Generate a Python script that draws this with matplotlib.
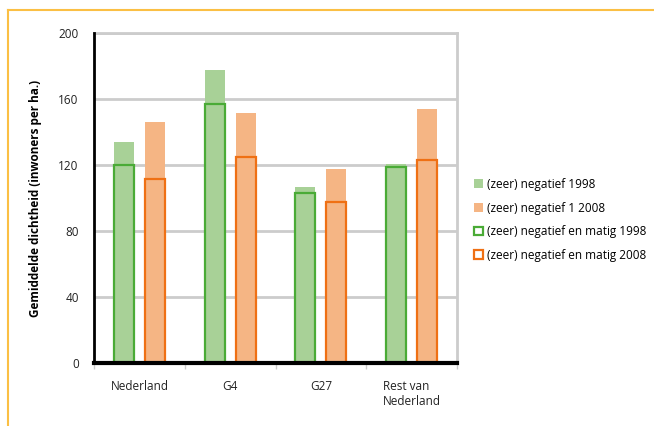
import matplotlib
matplotlib.use("Agg")
import matplotlib.pyplot as plt
import numpy as np
from matplotlib.lines import Line2D
from matplotlib.patches import Patch

categories = ["Nederland", "G4", "G27", "Rest van\nNederland"]
neg_1998 = [134, 178, 107, 121]
neg_2008 = [146, 152, 118, 154]
negmatig_1998 = [120, 157, 103, 119]
negmatig_2008 = [112, 125, 98, 123]
yticks = [0, 40, 80, 120, 160, 200]
legend_labels = ["(zeer) negatief 1998", "(zeer) negatief 1 2008",
                 "(zeer) negatief en matig 1998", "(zeer) negatief en matig 2008"]

light_green = "#a8d197"
light_orange = "#f5b584"
green = "#4aab36"
orange = "#ef7014"
grid_gray = "#cccccc"

plt.rcParams['font.family'] = ['Open Sans', 'DejaVu Sans']

fig = plt.figure(figsize=(6.54, 4.26), dpi=100)
ax = fig.add_axes([94/654, 1 - 363.3/426, (457-94)/654, (363.3-33.3)/426])

x = np.arange(len(categories))
w = 0.22
off = 0.17

ax.bar(x - off, neg_1998, w, color=light_green, zorder=2)
ax.bar(x + off, neg_2008, w, color=light_orange, zorder=2)
ax.bar(x - off, negmatig_1998, w, facecolor="none", edgecolor=green, linewidth=1.6, zorder=3)
ax.bar(x + off, negmatig_2008, w, facecolor="none", edgecolor=orange, linewidth=1.6, zorder=3)

ax.set_xlim(-0.5, len(categories) - 0.5)
ax.set_ylim(0, 200)
ax.set_yticks(yticks)
ax.set_yticklabels([str(v) for v in yticks], fontsize=8.5, color="#222222")
ax.yaxis.grid(True, color=grid_gray, linewidth=2, zorder=0)
ax.set_axisbelow(True)

ax.set_xticks(np.arange(len(categories) + 1) - 0.5, minor=False)
ax.set_xticklabels([])
ax.tick_params(axis='x', which='major', length=4, width=1, color=grid_gray, direction='out')
ax.set_xticks(x, minor=True)
ax.set_xticklabels(categories, minor=True, fontsize=8.5, color="#222222", multialignment='left')
ax.tick_params(axis='x', which='minor', length=0, pad=12)
ax.tick_params(axis='y', length=0, pad=11)

for s in ['top', 'right']:
    ax.spines[s].set_color(grid_gray)
    ax.spines[s].set_linewidth(2)
ax.spines['left'].set_color('black')
ax.spines['left'].set_linewidth(2)
ax.spines['left'].set_zorder(5)
ax.spines['bottom'].set_color('black')
ax.spines['bottom'].set_linewidth(3)
ax.spines['bottom'].set_zorder(5)

ax.set_ylabel("Gemiddelde dichtheid (inwoners per ha.)", fontsize=8.5, fontweight='bold', labelpad=12)

handles = [
    Patch(facecolor=light_green, edgecolor='none'),
    Patch(facecolor=light_orange, edgecolor='none'),
    Patch(facecolor='white', edgecolor=green, linewidth=1.6),
    Patch(facecolor='white', edgecolor=orange, linewidth=1.6),
]
fig.legend(handles, legend_labels, loc='upper left', bbox_to_anchor=(468/654, 1 - 172/426),
           frameon=False, fontsize=8.5, handlelength=0.75, handleheight=0.75,
           handletextpad=0.4, labelspacing=0.9, borderpad=0)

# orange frame
fig.add_artist(Line2D([7.5/654, 1], [1 - 10/426, 1 - 10/426], color="#fbbf44", linewidth=1.5, transform=fig.transFigure))
fig.add_artist(Line2D([7.5/654, 7.5/654], [0, 1 - 10/426], color="#fbbf44", linewidth=1.5, transform=fig.transFigure))

fig.savefig("out.png", dpi=100)
